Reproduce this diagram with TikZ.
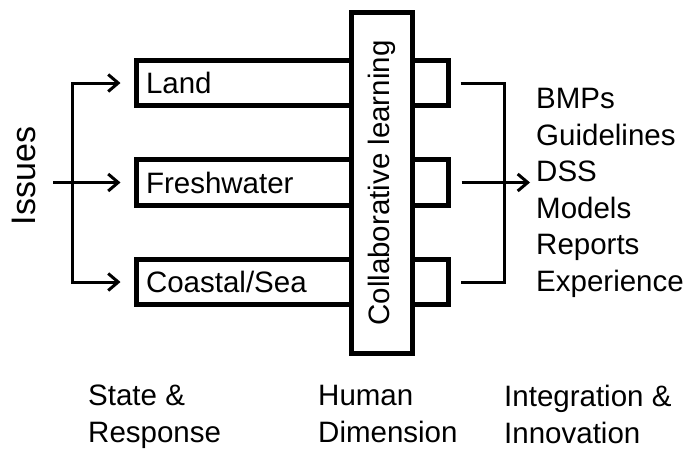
\documentclass[tikz,border=0pt]{standalone}
\usepackage{fontspec}
\setmainfont{Liberation Sans}
\usetikzlibrary{arrows.meta, positioning}

\begin{document}
\begin{tikzpicture}[x=1pt, y=-1pt,
    txt/.style={font=\fontsize{29.5}{36.5}\selectfont},
    bar/.style={txt, draw, line width=5pt, minimum width=312pt, minimum height=45.5pt,
        inner xsep=10pt, inner ysep=0pt, text width=292pt, align=left, anchor=west},
    collab/.style={txt, draw, fill=white, line width=5.5pt, minimum width=341pt,
        minimum height=61pt, inner sep=0pt, rotate=90},
    caption/.style={txt, align=left, anchor=north west, inner sep=0pt},
    link/.style={line width=3pt, -{Straight Barb[length=10pt, width=17pt]}},
    wire/.style={line width=3pt}]
  \useasboundingbox (0,0) rectangle (692,448);

  \node[bar] (land) at (133.5,83) {Land};
  \node[bar] (fresh) at (133.5,182.5) {Freshwater};
  \node[bar] (coast) at (133.5,282) {Coastal/Sea};
  \node[collab] (learn) at (382,183) {\hspace*{0pt}\raisebox{-3pt}{Collaborative learning}};

  \node[rotate=90, font=\fontsize{34}{40}\selectfont] (issues) at (24,176) {Issues};
  \coordinate (in) at (53,182.5);
  \coordinate (split) at (72,182.5);
  \draw[link, shorten >=13pt] (in) -- (fresh.west);
  \draw[link, shorten >=13pt] (split) |- (land.west);
  \draw[link, shorten >=13pt] (split) |- (coast.west);

  \node[caption, inner xsep=6pt] (outputs) at (530,88)
    {BMPs\\Guidelines\\DSS\\Models\\Reports\\Experience};
  \coordinate (join) at (504,182.5);
  \draw[wire] ([xshift=10pt]land.east) -| (join) |- ([xshift=10pt]coast.east);
  \draw[link] ([xshift=11pt]fresh.east) -- (fresh.east -| outputs.west);

  \node[caption] (state) at (88,385) {State \&\\Response};
  \node[caption] (human) at (318,385) {Human\\Dimension};
  \node[caption] (integ) at (504,385) {Integration \&\\Innovation};
\end{tikzpicture}
\end{document}
